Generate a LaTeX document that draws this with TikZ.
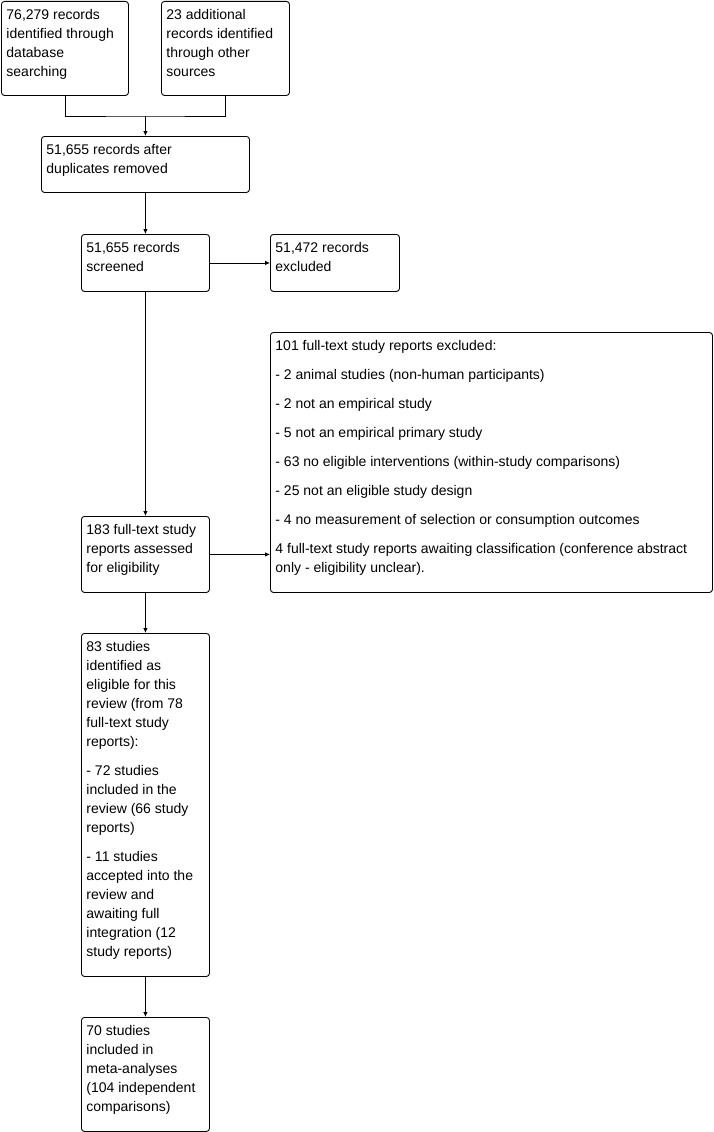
\documentclass[tikz,border=0pt]{standalone}
\usepackage{fontspec}
\setmainfont{Liberation Sans}
\usetikzlibrary{arrows.meta,positioning}

\newcommand{\boxtext}[3]{\parbox[t][#2][t]{#1}{\raggedright #3}}

\begin{document}
\begin{tikzpicture}[x=1pt,y=-1pt,>={Latex[length=5pt,width=4.5pt]},
  flowbox/.style={draw,line width=0.9pt,rounded corners=3pt,anchor=north west,
    inner xsep=5pt,inner ysep=8pt,font=\fontsize{14}{19}\selectfont},
  link/.style={line width=0.9pt}]
  \useasboundingbox (0,0) rectangle (714,1132);
  % identification
  \node[flowbox] (db) at (1,1) {\boxtext{117pt}{78pt}{76,279 records\\identified through\\database\\searching}};
  \node[flowbox] (other) at (161,1) {\boxtext{118pt}{78pt}{23 additional\\records identified\\through other\\sources}};
  \node[flowbox] (dedup) at (41,136) {\boxtext{198pt}{40pt}{51,655 records after\\duplicates removed}};
  % screening
  \node[flowbox] (screen) at (81,234) {\boxtext{118pt}{41pt}{51,655 records\\screened}};
  \node[flowbox] (excl) at (270,234) {\boxtext{119pt}{41pt}{51,472 records\\excluded}};
  % eligibility
  \node[flowbox] (fulltext) at (81,516) {\boxtext{118pt}{60pt}{183 full-text study\\reports assessed\\for eligibility}};
  \node[flowbox] (ftexcl) at (270,332) {\boxtext{432pt}{244pt}{101 full-text study reports excluded:\\[10pt]
    - 2 animal studies (non-human participants)\\[10pt]
    - 2 not an empirical study\\[10pt]
    - 5 not an empirical primary study\\[10pt]
    - 63 no eligible interventions (within-study comparisons)\\[10pt]
    - 25 not an eligible study design\\[10pt]
    - 4 no measurement of selection or consumption outcomes\\[10pt]
    4 full-text study reports awaiting classification (conference abstract\\only - eligibility unclear).}};
  % included
  \node[flowbox] (eligible) at (81,633) {\boxtext{118pt}{327pt}{83 studies\\identified as\\eligible for this\\review (from 78\\full-text study\\reports):\\[10pt]
    - 72 studies\\included in the\\review (66 study\\reports)\\[10pt]
    - 11 studies\\accepted into the\\review and\\awaiting full\\integration (12\\study reports)}};
  \node[flowbox] (meta) at (81,1017) {\boxtext{118pt}{98pt}{70 studies\\included in\\meta-analyses\\(104 independent\\comparisons)}};
  % connectors
  \coordinate (join) at (dedup.north |- 0,116);
  \draw[link] (db.south) |- (join) -| (other.south);
  \draw[link,->] (join) -- (dedup.north);
  \draw[link,->] (dedup.south) -- (screen.north);
  \draw[link,->] (screen.east) -- (excl.west);
  \draw[link,->] (screen.south) -- (fulltext.north);
  \draw[link,->] (fulltext.east) -- (fulltext.east -| ftexcl.west);
  \draw[link,->] (fulltext.south) -- (eligible.north);
  \draw[link,->] (eligible.south) -- (meta.north);
\end{tikzpicture}
\end{document}
